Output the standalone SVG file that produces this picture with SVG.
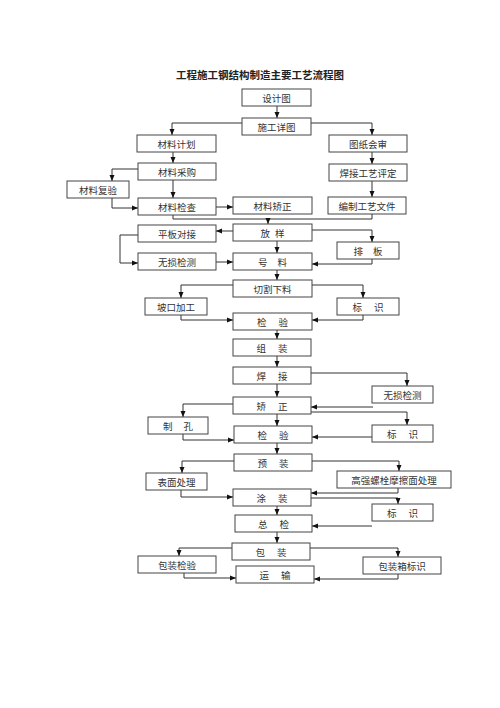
<svg xmlns="http://www.w3.org/2000/svg" width="500" height="708" viewBox="0 0 500 708">
<style>
.b rect{fill:#fff;stroke:#444;stroke-width:1}
.b text{font-family:"Noto Sans CJK SC","Noto Sans CJK TC",sans-serif;font-size:9.5px;fill:#333;text-anchor:middle;dominant-baseline:central}
.c path{fill:none;stroke:#333;stroke-width:1}
.t{font-family:"Noto Sans CJK SC",sans-serif;font-size:10.5px;font-weight:bold;fill:#222;text-anchor:middle}
</style>
<defs>
<marker id="a" markerUnits="userSpaceOnUse" markerWidth="6" markerHeight="6" refX="6" refY="3" orient="auto"><path d="M0,0.5 L6,3 L0,5.5 z" fill="#111"/></marker>
</defs>
<rect width="500" height="708" fill="#fff"/>
<text class="t" x="260" y="79">工程施工钢结构制造主要工艺流程图</text>
<g class="c">
<path d="M277,106 V118" marker-end="url(#a)"/>
<path d="M242,123 H172 V135" marker-end="url(#a)"/>
<path d="M311,123 H372 V135" marker-end="url(#a)"/>
<path d="M173,152 V163" marker-end="url(#a)"/>
<path d="M372,152 V164" marker-end="url(#a)"/>
<path d="M372,181 V197" marker-end="url(#a)"/>
<path d="M138,169 H112 V181" marker-end="url(#a)"/>
<path d="M112,198 V208 H138" marker-end="url(#a)"/>
<path d="M173,180 V198" marker-end="url(#a)"/>
<path d="M216,207 H233" marker-end="url(#a)"/>
<path d="M173,215 V219 H372 V214"/>
<path d="M268,219 V224" marker-end="url(#a)"/>
<path d="M233,231 H216" marker-end="url(#a)"/>
<path d="M312,230 H372 V242" marker-end="url(#a)"/>
<path d="M138,235 H120 V263 H138" marker-end="url(#a)"/>
<path d="M216,262 H233" marker-end="url(#a)"/>
<path d="M372,259 V264 H312" marker-end="url(#a)"/>
<path d="M277,241 V253" marker-end="url(#a)"/>
<path d="M277,270 V280" marker-end="url(#a)"/>
<path d="M233,285 H181 V298" marker-end="url(#a)"/>
<path d="M312,285 H363 V298" marker-end="url(#a)"/>
<path d="M181,315 V320 H233" marker-end="url(#a)"/>
<path d="M363,315 V320 H312" marker-end="url(#a)"/>
<path d="M277,330 V339" marker-end="url(#a)"/>
<path d="M277,356 V367" marker-end="url(#a)"/>
<path d="M311,373 H407 V386" marker-end="url(#a)"/>
<path d="M277,384 V397" marker-end="url(#a)"/>
<path d="M373,407 H311" marker-end="url(#a)"/>
<path d="M311,412 H407 V425" marker-end="url(#a)"/>
<path d="M233,404 H183 V417" marker-end="url(#a)"/>
<path d="M183,434 V440 H234" marker-end="url(#a)"/>
<path d="M372,437 H312" marker-end="url(#a)"/>
<path d="M277,414 V426" marker-end="url(#a)"/>
<path d="M277,443 V454" marker-end="url(#a)"/>
<path d="M234,461 H182 V473" marker-end="url(#a)"/>
<path d="M312,461 H399 V471" marker-end="url(#a)"/>
<path d="M181,490 V497 H233" marker-end="url(#a)"/>
<path d="M398,488 V493 H311" marker-end="url(#a)"/>
<path d="M311,498 H398 V504" marker-end="url(#a)"/>
<path d="M277,506 V515" marker-end="url(#a)"/>
<path d="M372,526 H312" marker-end="url(#a)"/>
<path d="M277,532 V543" marker-end="url(#a)"/>
<path d="M232,548 H179 V556" marker-end="url(#a)"/>
<path d="M310,548 H398 V557" marker-end="url(#a)"/>
<path d="M184,573 V578 H236" marker-end="url(#a)"/>
<path d="M398,574 V579 H314" marker-end="url(#a)"/>
</g>
<g class="b" id="n1"><rect x="242" y="89" width="69" height="17"/><text x="276.5" y="97.5">设计图</text></g>
<g class="b" id="n2"><rect x="242" y="118" width="69" height="17"/><text x="276.5" y="126.5">施工详图</text></g>
<g class="b" id="n3"><rect x="137" y="135" width="79" height="17"/><text x="176.5" y="143.5">材料计划</text></g>
<g class="b" id="n4"><rect x="329" y="135" width="78" height="17"/><text x="368" y="143.5">图纸会审</text></g>
<g class="b" id="n5"><rect x="138" y="163" width="78" height="17"/><text x="177" y="171.5">材料采购</text></g>
<g class="b" id="n6"><rect x="329" y="164" width="78" height="17"/><text x="368" y="172.5">焊接工艺评定</text></g>
<g class="b" id="n7"><rect x="67" y="181" width="62" height="17"/><text x="98" y="189.5">材料复验</text></g>
<g class="b" id="n8"><rect x="138" y="198" width="78" height="17"/><text x="177" y="206.5">材料检查</text></g>
<g class="b" id="n9"><rect x="233" y="197" width="79" height="17"/><text x="272.5" y="205.5">材料矫正</text></g>
<g class="b" id="n10"><rect x="328" y="197" width="78" height="17"/><text x="367" y="205.5">编制工艺文件</text></g>
<g class="b" id="n11"><rect x="138" y="225" width="78" height="17"/><text x="177" y="233.5">平板对接</text></g>
<g class="b" id="n12"><rect x="233" y="224" width="79" height="17"/><text x="272.5" y="232.5" word-spacing="3">放 样</text></g>
<g class="b" id="n13"><rect x="337" y="242" width="62" height="17"/><text x="368" y="250.5" word-spacing="8">排 板</text></g>
<g class="b" id="n14"><rect x="138" y="253" width="78" height="17"/><text x="177" y="261.5">无损检测</text></g>
<g class="b" id="n15"><rect x="233" y="253" width="79" height="17"/><text x="272.5" y="261.5" word-spacing="8">号 料</text></g>
<g class="b" id="n16"><rect x="233" y="280" width="79" height="17"/><text x="272.5" y="288.5">切割下料</text></g>
<g class="b" id="n17"><rect x="145" y="298" width="62" height="17"/><text x="176" y="306.5">坡口加工</text></g>
<g class="b" id="n18"><rect x="337" y="298" width="62" height="17"/><text x="368" y="306.5" word-spacing="10">标 识</text></g>
<g class="b" id="n19"><rect x="233" y="313" width="79" height="17"/><text x="272.5" y="321.5" word-spacing="10">检 验</text></g>
<g class="b" id="n20"><rect x="233" y="339" width="78" height="17"/><text x="272" y="347.5" word-spacing="10">组 装</text></g>
<g class="b" id="n21"><rect x="233" y="367" width="78" height="17"/><text x="272" y="375.5" word-spacing="10">焊 接</text></g>
<g class="b" id="n22"><rect x="372" y="386" width="61" height="17"/><text x="402.5" y="394.5">无损检测</text></g>
<g class="b" id="n23"><rect x="233" y="397" width="78" height="17"/><text x="272" y="405.5" word-spacing="10">矫 正</text></g>
<g class="b" id="n24"><rect x="148" y="417" width="60" height="17"/><text x="178" y="425.5" word-spacing="9">制 孔</text></g>
<g class="b" id="n25"><rect x="234" y="426" width="78" height="17"/><text x="273" y="434.5" word-spacing="10">检 验</text></g>
<g class="b" id="n26"><rect x="372" y="425" width="61" height="17"/><text x="402.5" y="433.5" word-spacing="10">标 识</text></g>
<g class="b" id="n27"><rect x="234" y="454" width="78" height="17"/><text x="273" y="462.5" word-spacing="10">预 装</text></g>
<g class="b" id="n28"><rect x="146" y="473" width="61" height="17"/><text x="176.5" y="481.5">表面处理</text></g>
<g class="b" id="n29"><rect x="337" y="471" width="114" height="17"/><text x="394" y="479.5">高强螺栓摩擦面处理</text></g>
<g class="b" id="n30"><rect x="233" y="489" width="78" height="17"/><text x="272" y="497.5" word-spacing="10">涂 装</text></g>
<g class="b" id="n31"><rect x="372" y="504" width="61" height="17"/><text x="402.5" y="512.5" word-spacing="10">标 识</text></g>
<g class="b" id="n32"><rect x="235" y="515" width="77" height="17"/><text x="273.5" y="523.5" word-spacing="10">总 检</text></g>
<g class="b" id="n33"><rect x="232" y="543" width="78" height="17"/><text x="271" y="551.5" word-spacing="10">包 装</text></g>
<g class="b" id="n34"><rect x="138" y="556" width="78" height="17"/><text x="177" y="564.5">包装检验</text></g>
<g class="b" id="n35"><rect x="363" y="557" width="78" height="17"/><text x="402" y="565.5">包装箱标识</text></g>
<g class="b" id="n36"><rect x="236" y="566" width="78" height="17"/><text x="275" y="574.5" word-spacing="10">运 输</text></g>
</svg>
